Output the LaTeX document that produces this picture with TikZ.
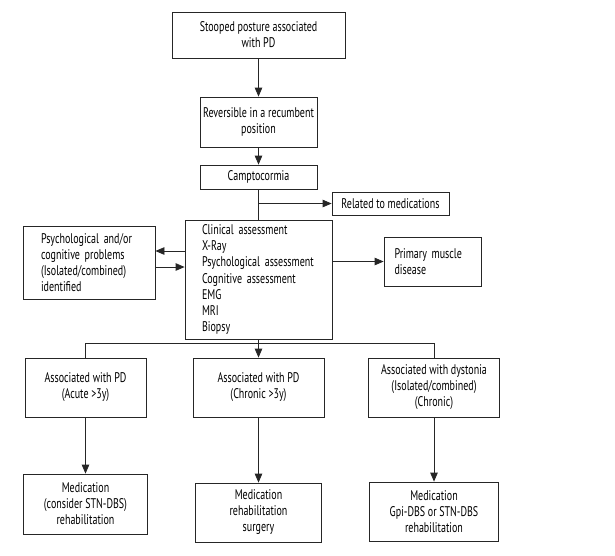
\documentclass[tikz,border=0pt]{standalone}
\usepackage{fontspec}
\setmainfont{PT Sans}[FakeStretch=0.715]
\usetikzlibrary{arrows.meta,calc}
\begin{document}
\begin{tikzpicture}[x=1pt,y=-1pt,
  every node/.style={font=\fontsize{14}{16}\selectfont},
  box/.style={draw=black!85, line width=0.8pt, inner sep=0pt, align=center, text=black},
  lbox/.style={box, align=left},
  ln/.style={draw=black!85, line width=0.8pt},
  arr/.style={ln, -{Triangle[width=7.5pt,length=9pt]}}]
\useasboundingbox[fill=white] (0,0) rectangle (615,555);
\node[box, minimum width=173, minimum height=46] (s) at (258.5,35) {Stooped posture associated\\with PD};
\node[box, minimum width=117, minimum height=50] (r) at (258.5,122) {Reversible in a recumbent\\position};
\node[box, minimum width=117, minimum height=24] (c) at (258.5,177) {Camptocormia};
\node[box, minimum width=117, minimum height=23] (m) at (390.5,203.5) {Related to medications};
\node[lbox, minimum width=147, minimum height=119, text width=113, font=\fontsize{14}{16.3}\selectfont] (a) at (258.5,279.5) {Clinical assessment\\X-Ray\\Psychological assessment\\Cognitive assessment\\EMG\\MRI\\Biopsy};
\node[lbox, minimum width=132, minimum height=73, text width=96] (p) at (89,262.5) {Psychological and/or\\cognitive problems\\(Isolated/combined)\\identified};
\node[lbox, minimum width=97, minimum height=49, text width=76] (d) at (432.5,261.5) {Primary muscle\\disease};
\node[box, minimum width=121, minimum height=59] (a1) at (85.5,387.5) {Associated with PD\\(Acute >3y)};
\node[box, minimum width=131, minimum height=59] (b1) at (258.5,387.5) {Associated with PD\\(Chronic >3y)};
\node[box, minimum width=131, minimum height=59] (c1) at (434,387.5) {Associated with dystonia\\(Isolated/combined)\\(Chronic)};
\node[box, minimum width=124, minimum height=60] (a2) at (85.5,504) {Medication\\(consider STN-DBS)\\rehabilitation};
\node[box, minimum width=126, minimum height=59] (b2) at (258.5,512.5) {Medication\\rehabilitation\\surgery};
\node[box, minimum width=129, minimum height=59] (c2) at (434,511.5) {Medication\\Gpi-DBS or STN-DBS\\rehabilitation};
\draw[arr] (s.south) -- (r.north);
\draw[arr] (r.south) -- (c.north);
\draw[ln] (c.south) -- (a.north);
\draw[arr] (c.south |- m.west) -- (m.west);
\coordinate (p1) at ([yshift=28.5pt]a.west);
\coordinate (p2) at ([yshift=12.5pt]a.west);
\draw[arr] (p1) -- (p1 -| p.east);
\draw[arr] (p2 -| p.east) -- (p2);
\draw[arr] (a.east |- d.west) -- (d.west);
\draw[arr] (a.south) -- (b1.north);
\coordinate (bus) at (258.5,343);
\draw[ln] (a1.north) -- (a1.north |- bus) -- (c1.north |- bus) -- (c1.north);
\draw[arr] (a1.south) -- (a2.north);
\draw[arr] (b1.south) -- (b2.north);
\draw[arr] (c1.south) -- (c2.north);
\end{tikzpicture}
\end{document}
